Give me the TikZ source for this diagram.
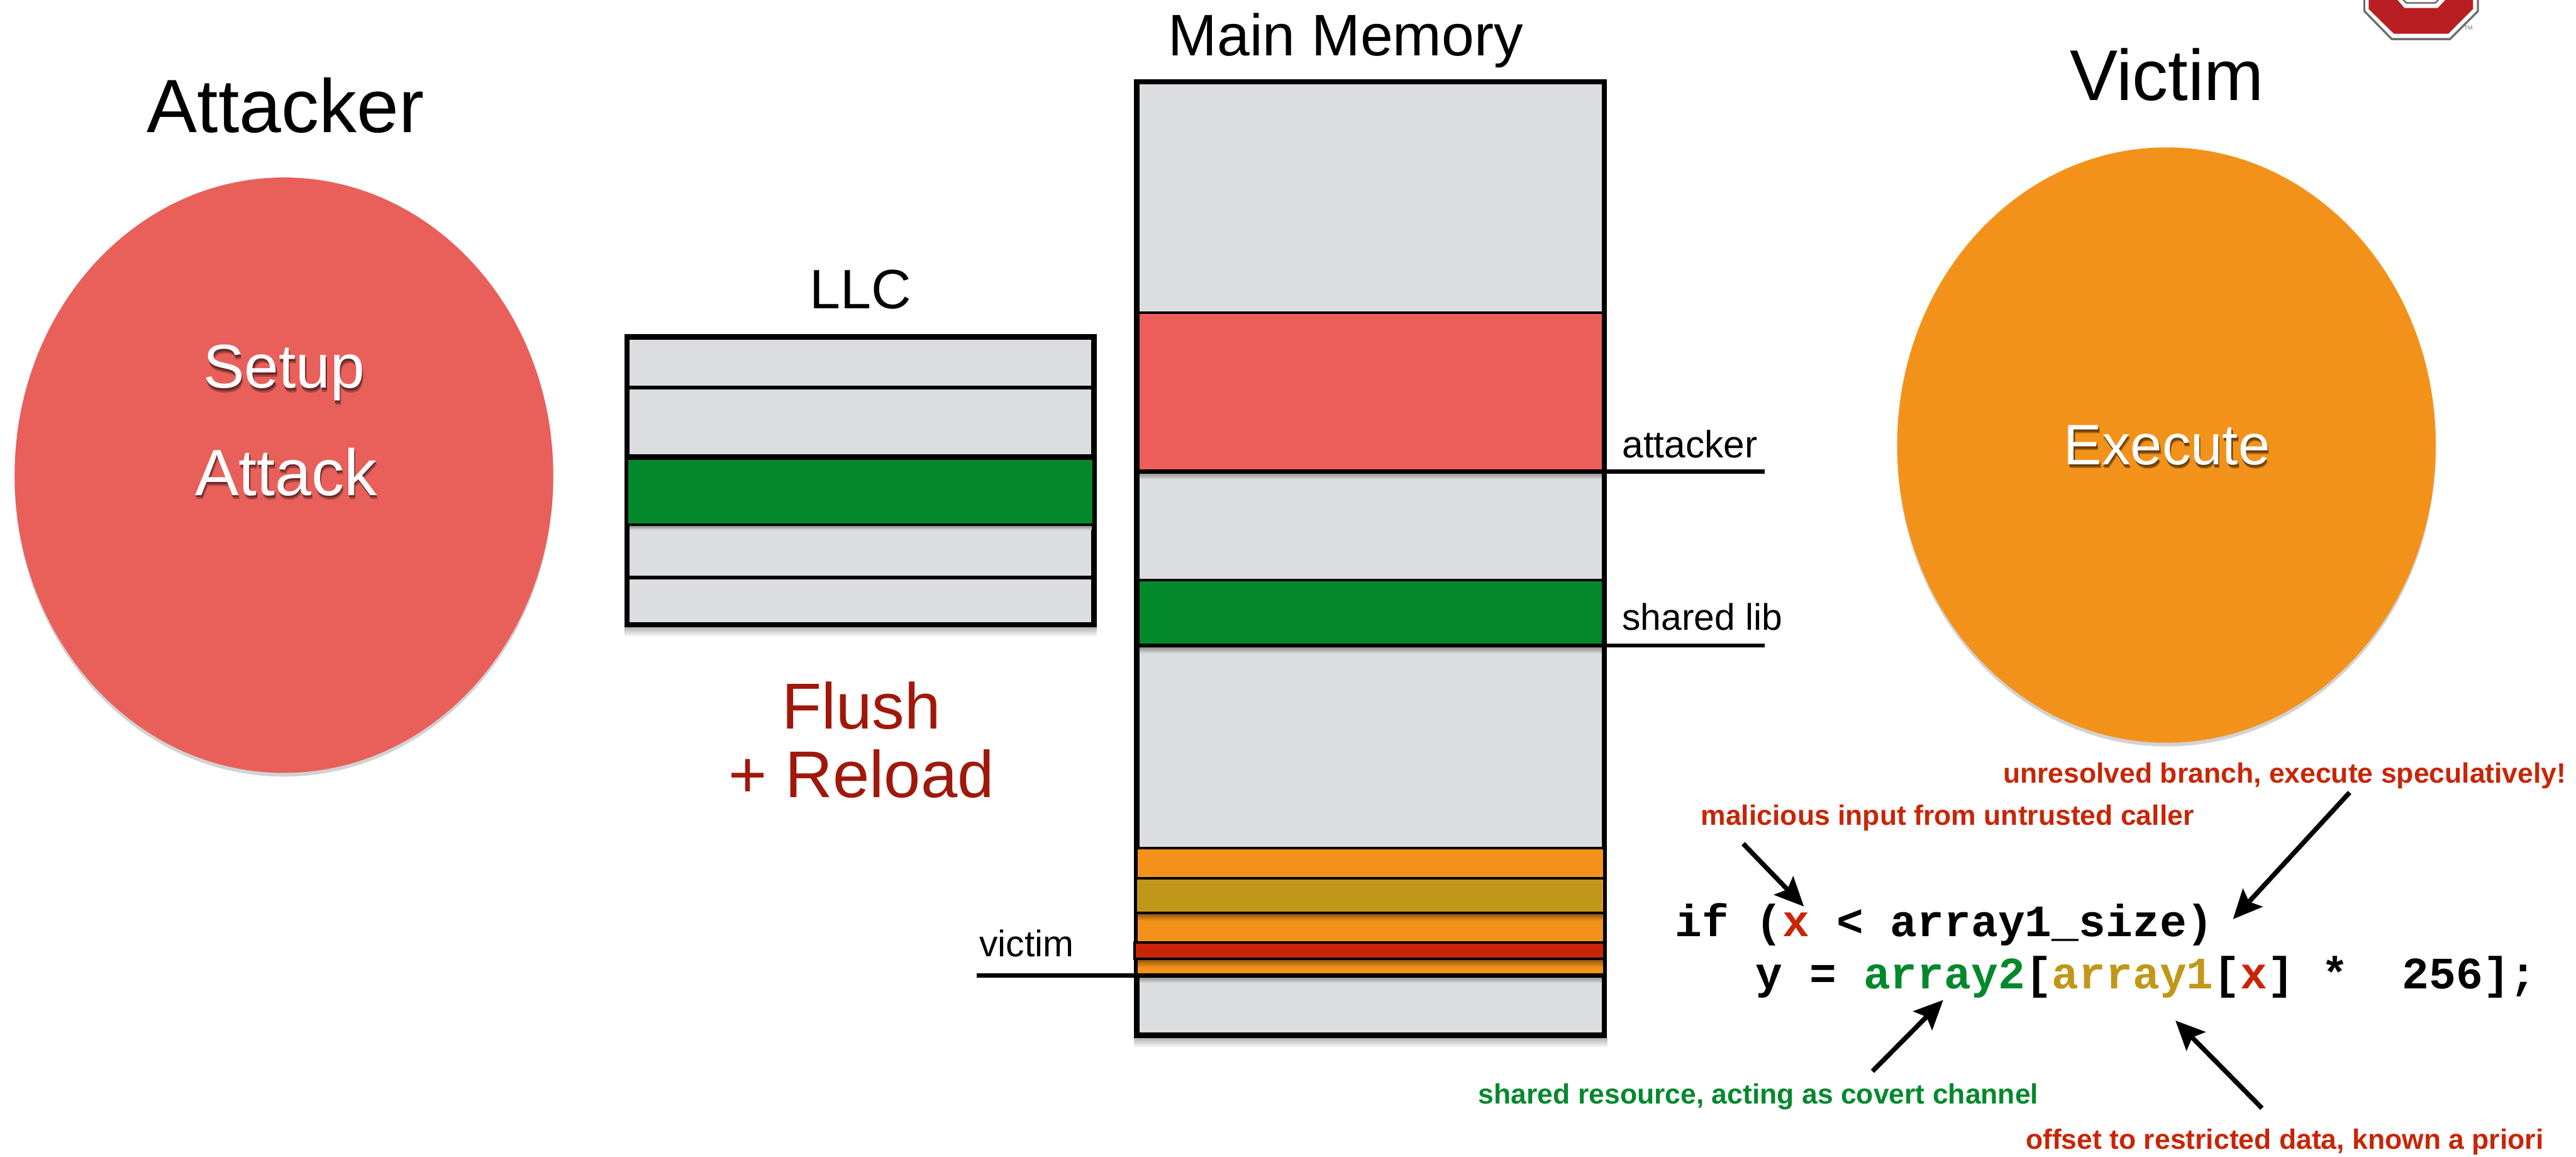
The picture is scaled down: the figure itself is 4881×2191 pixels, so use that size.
\documentclass[tikz,border=0pt]{standalone}
\usepackage{fontspec}
\setmainfont{Liberation Sans}
\setmonofont{Liberation Mono}
\usetikzlibrary{arrows.meta,shadows,shapes.geometric}
\definecolor{cgray}{HTML}{DCDDDF}
\definecolor{cred}{HTML}{ED5E5B}
\definecolor{cblob}{HTML}{E95F5A}
\definecolor{cgreen}{HTML}{03882C}
\definecolor{corange}{HTML}{F3921A}
\definecolor{cgold}{HTML}{C1971A}
\definecolor{cdeep}{HTML}{C82506}
\definecolor{cflush}{HTML}{A0180A}
\definecolor{clogo}{HTML}{B91E23}
\definecolor{clogog}{HTML}{6E6E6E}
\newcommand{\fs}[1]{\fontsize{\dimexpr #1pt*2845/10000\relax}{\dimexpr #1pt*34/100\relax}\selectfont}
% text with a soft drop shadow behind it, as on the ellipse labels
\newcommand{\softshadow}[2]{%
  \rlap{\kern 0.8pt\raisebox{-2.2pt}{\textcolor{#1!72!black}{#2}}}%
  \rlap{\kern 0.5pt\raisebox{-1.3pt}{\textcolor{#1!45!black}{#2}}}%
  \textcolor{white}{#2}}
\tikzset{
  x=0.01cm,y=-0.01cm,
  box/.style={draw=black,line width=0.1cm,fill=cgray},
  band/.style={draw=black,line width=0.05cm},
  lead/.style={draw=black,line width=0.08cm},
  blob/.style={ellipse,minimum width=10.2cm,minimum height=11.27cm,inner sep=0pt,
     drop shadow={shadow xshift=0cm,shadow yshift=-0.07cm,opacity=.35}},
  title/.style={inner sep=0pt,anchor=base,text=black},
  tag/.style={inner sep=0pt,anchor=base west,text=black},
  note/.style={inner sep=0pt,anchor=base,font=\bfseries\fs{53}},
  pointer/.style={draw=black,line width=0.09cm,-{Stealth[length=0.55cm,width=0.5cm,inset=0.1cm]}},
  code/.style={inner sep=0pt,anchor=base west,font=\ttfamily\bfseries\fs{85},text=black},
  undershade/.style={top color=black!50,bottom color=cgray,draw=none},
  orangeshade/.style={top color=corange!55!black,bottom color=corange,draw=none},
  outershade/.style={top color=black!30,bottom color=white,draw=none},
}
\begin{document}
\begin{tikzpicture}
\useasboundingbox (0,0) rectangle (4881,2191);
\fill[white] (0,0) rectangle (4881,2191);

% logo
\fill[clogog] (4478,0) -- (4478,22) -- (4531,76) -- (4643,76) -- (4697,22) -- (4697,0) -- cycle;
\fill[white] (4482,0) -- (4482,20) -- (4533,72) -- (4641,72) -- (4693,20) -- (4693,0) -- cycle;
\fill[clogo] (4488,0) -- (4488,17) -- (4536,64) -- (4639,64) -- (4686,17) -- (4686,0) -- cycle;
\fill[white] (4543,0) -- (4556,15) -- (4619,15) -- (4633,0) -- cycle;
\fill[clogog] (4552,0) -- (4559,7) -- (4615,7) -- (4622,0) -- cycle;
\fill[white] (4556,0) -- (4561,4) -- (4613,4) -- (4618,0) -- cycle;
\node[inner sep=0pt,text=clogog,font=\fs{11}] (tm) at (4677,53) {TM};

% ellipses
\node[blob,fill=cblob] (attacker) at (538,900) {};
\node[blob,fill=corange] (victim) at (4105,843) {};

% titles
\node[title,font=\fs{143}] (attackerT) at (541,251) {Attacker};
\node[title,font=\fs{136}] (victimT) at (4106,190) {Victim};
\node[title,font=\fs{111}] (memT) at (2550,105) {Main Memory};
\node[title,font=\fs{105}] (llcT) at (1631,584) {LLC};
\node[title,font=\fs{117}] (setup) at (538,735) {\softshadow{cblob}{Setup}};
\node[title,font=\fs{124}] (attack) at (542,938) {\softshadow{cblob}{Attack}};
\node[title,font=\fs{108}] (exec) at (4106,880) {\softshadow{corange}{Execute}};
\node[title,font=\fs{123},text=cflush] (flush) at (1632,1380) {Flush};
\node[title,font=\fs{125},text=cflush] (reload) at (1632,1510) {+ Reload};

% LLC
\shade[outershade] (1183,1188) rectangle (2078,1206);
\draw[box] (1188,638) rectangle (2073,1183);
\fill[cgreen] (1191,866) rectangle (2070,994);
\shade[undershade] (1193,994) rectangle (2068,1004);
\draw[band,line width=0.08cm] (1188,734) -- (2073,734);
\draw[band,line width=0.107cm] (1188,866) -- (2073,866);
\draw[band,line width=0.055cm] (1188,994) -- (2073,994);
\draw[band,line width=0.07cm] (1188,1094) -- (2073,1094);

% main memory
\shade[outershade] (2149,1966) rectangle (3045,1984);
\draw[box] (2154,155) rectangle (3040,1961);
\fill[cred] (2159,592) rectangle (3035,893);
\fill[cgreen] (2159,1099) rectangle (3035,1223);
\shade[undershade] (2159,893) rectangle (3035,908);
\shade[undershade] (2159,1223) rectangle (3035,1238);
\shade[undershade] (2159,1848) rectangle (3035,1862);
\fill[corange] (2156,1606) rectangle (3037,1848);
\fill[cgold] (2155,1664) rectangle (3035,1729);
\shade[orangeshade] (2156,1729) rectangle (3037,1744);
\fill[cdeep] (2152,1785) rectangle (3037,1816);
\shade[orangeshade] (2156,1816) rectangle (3037,1832);
\draw[band] (2154,592) -- (3040,592);
\draw[band,line width=0.08cm] (2154,893) -- (3040,893);
\draw[band] (2154,1099) -- (3040,1099);
\draw[band,line width=0.07cm] (2154,1223) -- (3040,1223);
\draw[band] (2154,1606) -- (3037,1606);
\draw[band] (2150,1664) -- (3037,1664);
\draw[band] (2150,1729) -- (3037,1729);
\draw[band] (2147,1785) -- (3037,1785);
\draw[band] (2147,1816) -- (3037,1816);
\draw[band,line width=0.08cm] (2154,1848) -- (3040,1848);
\draw[line width=0.05cm] (2149.5,1783) -- (2149.5,1818);

% leaders
\coordinate (la) at (3043,893);
\coordinate (la2) at (3344,893);
\coordinate (ls) at (3043,1223);
\coordinate (ls2) at (3344,1223);
\coordinate (lv) at (2149,1848);
\coordinate (lv2) at (1851,1848);
\draw[lead] (la) -- (la2);
\draw[lead,line width=0.07cm] (ls) -- (ls2);
\draw[lead] (lv) -- (lv2);
\node[tag,font=\fs{72}] (tattacker) at (3073,867) {attacker};
\node[tag,font=\fs{70}] (tshared) at (3073,1193) {shared lib};
\node[tag,font=\fs{70}] (tvictim) at (1855,1812) {victim};

% code
\node[code] (line1) at (3173,1774) {if (\textcolor{cdeep}{x} < array1\_size)};
\node[code] (line2) at (3173,1873) {\ \ \ y = \textcolor{cgreen}{array2}[\textcolor{cgold}{array1}[\textcolor{cdeep}{x}] *\ \ 256];};

% notes
\node[note,text=cdeep] (n1) at (4329,1483) {unresolved branch, execute speculatively!};
\node[note,text=cdeep] (n2) at (3690,1563) {malicious input from untrusted caller};
\node[note,text=cgreen] (n3) at (3332,2091) {shared resource, acting as covert channel};
\node[note,text=cdeep] (n4) at (4329,2176) {offset to restricted data, known a priori};

% arrows
\coordinate (a1s) at (3303,1598); \coordinate (a1e) at (3418,1717);
\coordinate (a2s) at (4452,1501); \coordinate (a2e) at (4231,1741);
\coordinate (a3s) at (3548,2029); \coordinate (a3e) at (3682,1894);
\coordinate (a4s) at (4286,2099); \coordinate (a4e) at (4122,1933);
\draw[pointer] (a1s) -- (a1e);
\draw[pointer] (a2s) -- (a2e);
\draw[pointer] (a3s) -- (a3e);
\draw[pointer] (a4s) -- (a4e);
\end{tikzpicture}
\end{document}
